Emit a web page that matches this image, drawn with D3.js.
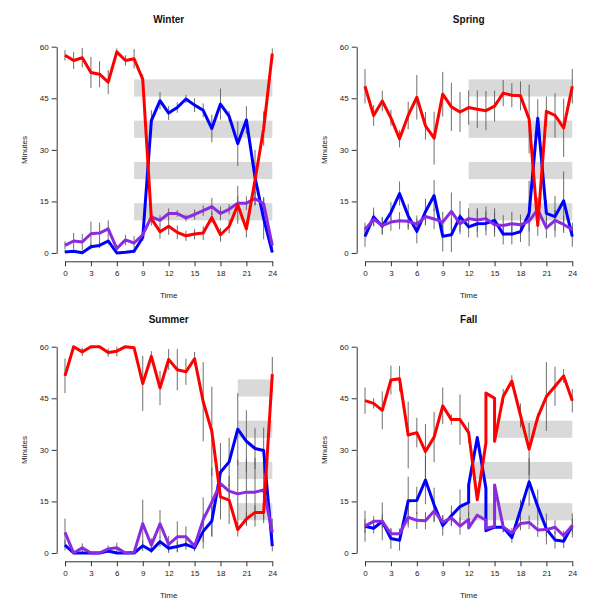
<!DOCTYPE html>
<html>
<head>
<meta charset="utf-8">
<script src="https://cdn.jsdelivr.net/npm/d3@7"></script>
<style>
  body { margin: 0; background: #fff; }
  svg { display: block; font-family: "Liberation Sans", Arial, sans-serif; }
</style>
</head>
<body>
<svg id="chart" width="600" height="600"></svg>
<script>
// ---------- DATA ----------
const hours = [0,1,2,3,4,5,6,7,8,9,10,11,12,13,14,15,16,17,18,19,20,21,22,23,24];
const fallHours = [0,1,2,3,4,5,6,7,8,9,10,11,12,12,13,14,14,15,15,16,17,18,19,20,21,22,23,24];
const xTicks = [0,3,6,9,12,15,18,21,24];
const yTicks = [0,15,30,45,60];
const bandCenters = [48,36,24,12];
const bandHalf = 2.5;

const winterRed    = [57.5,56,56.8,52.5,52,49.7,58.5,56,56.5,50.5,10,6.2,7.8,6,5,5.5,5.8,10.3,5.3,7.7,14,7,21.2,36.2,58];
const winterBlue   = [0.3,0.5,0.1,1.8,2.2,3.5,0,0.2,0.5,4.5,38.5,44.3,40.7,42.3,44.8,43,41.5,36.2,43.3,39.8,31.8,38.7,22,10,0.2];
const winterPurple = [2.2,3.5,3.2,5.6,5.8,7,1.3,3.8,2.9,5.3,10.5,9.5,11.5,11.5,10.2,11.2,12.3,13.5,11.5,12.7,14.5,14.5,15.8,14.3,2.2];
const winterRedErr    = [1.5,2.5,2.8,4.5,3.8,3.5,1,1.5,2.8,1.5,2,2,2.5,2,1.5,1.5,2,1.5,2,2,5.5,2.5,4,5,1.5];
const winterBlueErr   = [0.5,0.5,0.5,0.8,0.8,1,0.3,0.3,0.5,1,3,2.5,2,1.5,1.2,2,2,4,4.5,1.5,6.5,4,8,6,0.5];
const winterPurpleErr = [1.2,2.3,2.3,3.5,3,2.5,1,1.5,2,1,1.5,1.5,1.5,1,1,1.5,1.5,2.5,2,1.5,2,2,2,2,1];
const winterBandStart = [8,8,8,8];

const springRed    = [48.5,40,44.2,39.3,33.2,40,45.3,37,33.4,46.2,42.5,41,42.3,41.8,41.4,42.7,46.5,45.9,45.7,39,8,41.2,40,36.4,48.5];
const springBlue   = [4.8,10.5,7.8,11.8,17.3,10.8,6.3,12,16.7,4.9,5.3,10.6,7.6,8.5,8.6,9.5,5.5,5.5,6.2,11.5,39.2,11.5,10.6,15.2,4.8];
const springPurple = [6.8,9.8,8,9,9.4,9.2,8.4,10.6,9.9,9,12.1,8.5,10,9.6,10,8.2,8,8.5,8.2,9.3,12.6,7.3,9.5,8.3,6.8];
const springRedErr    = [5,3,3,2.3,2.5,4,6.5,4,7.7,6.5,7,5.8,5,5.5,5.7,4.5,3.8,3.5,4.2,10,3,4.3,6.5,8.5,5];
const springBlueErr   = [3,2.7,2.5,3,3.5,3.5,3.5,3.8,4.5,4.5,5,4.5,3,4,3.5,3.5,3,3,3,9.5,5.5,4,6,8.5,3];
const springPurpleErr = [2,2,2.5,2.5,2.5,2.5,2.5,2.5,3,3,5.5,3,3,3.5,3.5,3.5,3,3.5,3,3,3.5,3,3,2.5,2];
const springBandStart = [12,12,12,12];

const summerRed    = [51.5,60,58.5,60,60,58.3,58.7,60,59.7,49.3,57.2,48,56.3,53.3,52.7,56.5,44,35.4,16.3,15.4,6.8,9.9,11.8,11.8,52];
const summerBlue   = [2.3,0,0,0,0,0.6,0,0,0,2.1,0.7,3.3,1.4,1.9,2.5,1.5,6.3,9.3,23.5,26.5,36,32.5,30.4,29.8,2];
const summerPurple = [6,0,1.5,0,0,1.2,1.5,0,0.2,8.5,2.3,8.5,2.5,4.7,4.7,2,9.7,14.8,20.2,18,17.2,17.7,17.7,18.3,6];
const summerRedErr    = [5,0.5,1.2,0.3,0.3,1.2,1.5,0.3,0.5,8,1.5,5,3,6,3.8,2,11.5,13,6.5,7,2,2,2,2,5];
const summerBlueErr   = [1.5,0.3,0.3,0.3,0.3,0.8,0.3,0.3,0.3,1.5,1,1.5,1,1.5,1.5,1,5,4.5,8.5,7,10.5,9,6,6.7,1.5];
const summerPurpleErr = [4,0.5,1.3,0.3,0.3,1,1.5,0.3,0.5,7,2,4,2.5,4.5,3,1,6.5,10,2,2,10,9.6,10,9.6,4];
const summerBandStart = [20,20,20,20];

const fallRed    = [44.3,43.5,41.5,50.3,50.7,34.3,35,29.5,33.7,42.8,38.8,38.8,35,35,15.5,32,46.5,45,32.5,45.5,50,40,30.2,39.5,45.5,48.5,51.5,44.3];
const fallBlue   = [7.8,7.2,9.2,4.2,3.7,15.2,15.3,21.2,14,8,10.8,13.5,14.7,19.8,33.6,18.8,6.5,7.5,7.5,7.5,4.5,12.5,20.7,13.5,7,3.8,3.4,8];
const fallPurple = [7.8,9.2,9.2,5.6,5.6,10.4,9.5,9.4,12.2,9,10.2,7.8,9.8,7.3,11,9.5,7.2,7.7,19.8,7.6,5.8,8.6,8.9,6.7,6.8,7.5,5,8];
const fallRedErr    = [3.8,1.5,5.5,4.2,3.7,9.7,4.3,8,7.3,5.3,1.5,7.3,3,0,0,0,0,0,0,2.2,1.7,3.5,7.6,1.2,10,5.7,2,3.4];
const fallBlueErr   = [4.5,1.5,5.5,3,3,7,4,7,5,3,3,5,4,0,0,0,0,0,0,1.5,1.5,3,7,5,4.5,2.5,2,3.5];
const fallPurpleErr = [2,1.5,2,1.5,1.5,3,2.5,2.5,3,2,2,2.5,2,0,0,0,0,0,0,1.5,1.5,2,2,2,2,2,1.5,2];
const fallBandStart = [null,15.3,12.5,11];

const panels = [
  {title:"Winter", x:hours, red:winterRed, blue:winterBlue, purple:winterPurple,
   redErr:winterRedErr, blueErr:winterBlueErr, purpleErr:winterPurpleErr, bands:winterBandStart},
  {title:"Spring", x:hours, red:springRed, blue:springBlue, purple:springPurple,
   redErr:springRedErr, blueErr:springBlueErr, purpleErr:springPurpleErr, bands:springBandStart},
  {title:"Summer", x:hours, red:summerRed, blue:summerBlue, purple:summerPurple,
   redErr:summerRedErr, blueErr:summerBlueErr, purpleErr:summerPurpleErr, bands:summerBandStart},
  {title:"Fall", x:fallHours, red:fallRed, blue:fallBlue, purple:fallPurple,
   redErr:fallRedErr, blueErr:fallBlueErr, purpleErr:fallPurpleErr, bands:fallBandStart}
];

// ---------- DRAW ----------
const svg = d3.select("#chart");
const colors = {red:"#ff0000", blue:"#0000ff", purple:"#8a2be2"};

panels.forEach((p, i) => {
  const ox = (i % 2) * 300, oy = Math.floor(i / 2) * 300;
  const g = svg.append("g").attr("transform", `translate(${ox},${oy})`);
  const x = d3.scaleLinear().domain([0, 24]).range([65, 272.3]);
  const y = d3.scaleLinear().domain([0, 60]).range([253, 46.7]);

  // bands
  p.bands.forEach((start, k) => {
    if (start === null) return;
    const c = bandCenters[k];
    g.append("rect")
      .attr("x", x(start)).attr("width", x(24) - x(start))
      .attr("y", y(c + bandHalf)).attr("height", y(c - bandHalf) - y(c + bandHalf))
      .attr("fill", "#d9d9d9");
  });

  // error bars
  [["red","redErr"],["blue","blueErr"],["purple","purpleErr"]].forEach(([s, e]) => {
    p.x.forEach((h, j) => {
      const err = p[e][j];
      if (!err) return;
      g.append("line")
        .attr("x1", x(h)).attr("x2", x(h))
        .attr("y1", y(Math.min(60, p[s][j] + err)))
        .attr("y2", y(Math.max(0, p[s][j] - err)))
        .attr("stroke", "#555").attr("stroke-opacity", 0.85).attr("stroke-width", 1);
    });
  });

  // lines
  const line = d3.line().x(d => x(d[0])).y(d => y(d[1]));
  ["blue","purple","red"].forEach(s => {
    g.append("path")
      .datum(p.x.map((h, j) => [h, p[s][j]]))
      .attr("d", line)
      .attr("fill", "none")
      .attr("stroke", colors[s])
      .attr("stroke-width", 3)
      .attr("stroke-linejoin", "round");
  });

  // axes
  const yAxis = d3.axisLeft(y).tickValues(yTicks).tickSize(5).tickSizeOuter(0).tickPadding(3);
  const xAxis = d3.axisBottom(x).tickValues(xTicks).tickSize(5).tickSizeOuter(0).tickPadding(4);
  const ya = g.append("g").attr("transform", "translate(56.7,0)").call(yAxis);
  const xa = g.append("g").attr("transform", "translate(0,261.3)").call(xAxis);
  [ya, xa].forEach(a => {
    a.selectAll("path, line").attr("stroke", "#333");
    a.selectAll("text").attr("font-size", 8).attr("fill", "#222")
      .attr("font-family", "Liberation Sans, Arial, sans-serif");
  });

  // titles
  g.append("text").attr("x", 168.7).attr("y", 23).attr("text-anchor", "middle")
    .attr("font-size", 10).attr("font-weight", "bold").attr("fill", "#111").text(p.title);
  g.append("text").attr("x", 168.7).attr("y", 298).attr("text-anchor", "middle")
    .attr("font-size", 8).attr("fill", "#222").text("Time");
  g.append("text").attr("transform", "translate(27,150) rotate(-90)").attr("text-anchor", "middle")
    .attr("font-size", 8).attr("fill", "#222").text("Minutes");
});
</script>
</body>
</html>
